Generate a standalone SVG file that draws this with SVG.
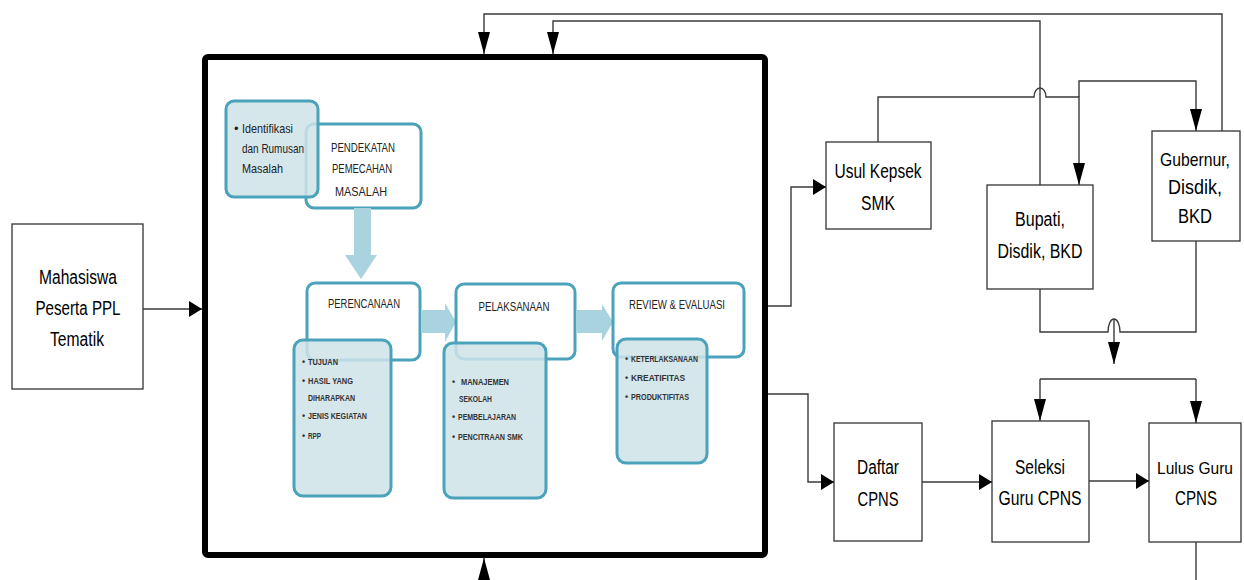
<svg xmlns="http://www.w3.org/2000/svg" width="1244" height="580" viewBox="0 0 1244 580">
<style>
.box{fill:#fff;stroke:#333;stroke-width:1.3}
.big{fill:#fff;stroke:#000;stroke-width:6}
.tw{fill:#fff;stroke:#4ba3bb;stroke-width:3}
.tl{fill:#cfe3e9;fill-opacity:0.85;stroke:#4ba3bb;stroke-width:3}
.ba{fill:#a9d3df}
.lbl{font-family:"Liberation Sans",Arial,sans-serif;font-size:20px;fill:#000;text-anchor:middle}
.sm{font-size:18.5px}
.xs{font-size:17px}
.ttl{font-family:"Liberation Sans",Arial,sans-serif;font-size:12px;fill:#222;text-anchor:middle}
.itm{font-family:"Liberation Sans",Arial,sans-serif;font-size:9px;font-weight:bold;fill:#333}
.idf{font-family:"Liberation Sans",Arial,sans-serif;font-size:13px;fill:#222}
.c{fill:none;stroke:#3a3a3a;stroke-width:1.4}
</style>
<defs>
<marker id="ah" viewBox="0 0 13 16" refX="13" refY="8" markerWidth="13" markerHeight="16" markerUnits="userSpaceOnUse" orient="auto">
<path d="M0,0 L13,8 L0,16 z" fill="#000"/>
</marker>
<marker id="av" viewBox="0 0 22 12" refX="22" refY="6" markerWidth="22" markerHeight="12" markerUnits="userSpaceOnUse" orient="auto">
<path d="M0,0 L22,6 L0,12 z" fill="#000"/>
</marker>
</defs>

<g id="process">
<rect class="big" x="205" y="57" width="560" height="498" rx="3"/>
<rect class="tw" x="306" y="124" width="115" height="84" rx="8"/>
<text class="ttl" x="363" y="152" textLength="64" lengthAdjust="spacingAndGlyphs">PENDEKATAN</text>
<text class="ttl" x="362" y="173" textLength="60" lengthAdjust="spacingAndGlyphs">PEMECAHAN</text>
<text class="ttl" x="361" y="196" textLength="52" lengthAdjust="spacingAndGlyphs">MASALAH</text>
<rect class="tl" x="226" y="101" width="92" height="96" rx="8"/>
<text class="idf" x="234" y="133">•</text>
<text class="idf" x="242" y="133" textLength="51" lengthAdjust="spacingAndGlyphs">Identifikasi</text>
<text class="idf" x="242" y="153" textLength="62" lengthAdjust="spacingAndGlyphs">dan Rumusan</text>
<text class="idf" x="242" y="173" textLength="41" lengthAdjust="spacingAndGlyphs">Masalah</text>
<polygon class="ba" points="354,208 371,208 371,255 377,255 361,279 345,255 354,255"/>

<rect class="tw" x="307" y="283" width="113" height="77" rx="8"/>
<text class="ttl" x="364" y="308" textLength="72" lengthAdjust="spacingAndGlyphs">PERENCANAAN</text>
<rect class="tl" x="294" y="340" width="97" height="156" rx="9"/>
<g class="itm">
<text x="302" y="365">•</text><text x="308" y="365" textLength="30" lengthAdjust="spacingAndGlyphs">TUJUAN</text>
<text x="302" y="384">•</text><text x="308" y="384" textLength="45" lengthAdjust="spacingAndGlyphs">HASIL YANG</text>
<text x="308" y="401" textLength="47" lengthAdjust="spacingAndGlyphs">DIHARAPKAN</text>
<text x="302" y="419">•</text><text x="308" y="419" textLength="59" lengthAdjust="spacingAndGlyphs">JENIS KEGIATAN</text>
<text x="302" y="439">•</text><text x="308" y="439" textLength="13" lengthAdjust="spacingAndGlyphs">RPP</text>
</g>
<polygon class="ba" points="421,310 445,310 445,303 456,322 445,342 445,333 421,333"/>

<rect class="tw" x="456" y="284" width="119" height="75" rx="8"/>
<text class="ttl" x="514" y="311" textLength="71" lengthAdjust="spacingAndGlyphs">PELAKSANAAN</text>
<rect class="tl" x="444" y="343" width="102" height="155" rx="9"/>
<g class="itm">
<text x="452" y="385">•</text><text x="461" y="385" textLength="48" lengthAdjust="spacingAndGlyphs">MANAJEMEN</text>
<text x="459" y="402" textLength="33" lengthAdjust="spacingAndGlyphs">SEKOLAH</text>
<text x="452" y="420">•</text><text x="458" y="420" textLength="58" lengthAdjust="spacingAndGlyphs">PEMBELAJARAN</text>
<text x="452" y="440">•</text><text x="458" y="440" textLength="65" lengthAdjust="spacingAndGlyphs">PENCITRAAN SMK</text>
</g>
<polygon class="ba" points="576,310 602,310 602,304 613,322 602,341 602,333 576,333"/>

<rect class="tw" x="613" y="283" width="131" height="74" rx="8"/>
<text class="ttl" x="677" y="309" textLength="96" lengthAdjust="spacingAndGlyphs">REVIEW &amp; EVALUASI</text>
<rect class="tl" x="617" y="339" width="90" height="124" rx="9"/>
<g class="itm">
<text x="625" y="362">•</text><text x="631" y="362" textLength="67" lengthAdjust="spacingAndGlyphs">KETERLAKSANAAN</text>
<text x="625" y="381">•</text><text x="631" y="381" textLength="54" lengthAdjust="spacingAndGlyphs">KREATIFITAS</text>
<text x="625" y="400">•</text><text x="631" y="400" textLength="58" lengthAdjust="spacingAndGlyphs">PRODUKTIFITAS</text>
</g>
</g>

<g id="mahasiswa">
<rect class="box" x="12" y="224" width="131" height="165"/>
<text class="lbl" x="78" y="284" textLength="78" lengthAdjust="spacingAndGlyphs">Mahasiswa</text>
<text class="lbl" x="78" y="315" textLength="85" lengthAdjust="spacingAndGlyphs">Peserta PPL</text>
<text class="lbl" x="77" y="346" textLength="54" lengthAdjust="spacingAndGlyphs">Tematik</text>
</g>

<g id="usul-kepsek">
<rect class="box" x="826" y="142" width="105" height="87"/>
<text class="lbl" x="878" y="178" textLength="87" lengthAdjust="spacingAndGlyphs">Usul Kepsek</text>
<text class="lbl" x="878" y="210" textLength="34" lengthAdjust="spacingAndGlyphs">SMK</text>
</g>

<g id="bupati">
<rect class="box" x="987" y="185" width="106" height="104"/>
<text class="lbl" x="1040" y="226" textLength="50" lengthAdjust="spacingAndGlyphs">Bupati,</text>
<text class="lbl" x="1040" y="258" textLength="85" lengthAdjust="spacingAndGlyphs">Disdik, BKD</text>
</g>

<g id="gubernur">
<rect class="box" x="1152" y="131" width="88" height="110"/>
<text class="lbl sm" x="1195" y="166" textLength="70" lengthAdjust="spacingAndGlyphs">Gubernur,</text>
<text class="lbl" x="1195" y="194" textLength="54" lengthAdjust="spacingAndGlyphs">Disdik,</text>
<text class="lbl" x="1195" y="223" textLength="34" lengthAdjust="spacingAndGlyphs">BKD</text>
</g>

<g id="daftar">
<rect class="box" x="834" y="423" width="88" height="118"/>
<text class="lbl" x="878" y="474" textLength="42" lengthAdjust="spacingAndGlyphs">Daftar</text>
<text class="lbl" x="878" y="506" textLength="41" lengthAdjust="spacingAndGlyphs">CPNS</text>
</g>

<g id="seleksi">
<rect class="box" x="992" y="421" width="97" height="121"/>
<text class="lbl" x="1040" y="474" textLength="50" lengthAdjust="spacingAndGlyphs">Seleksi</text>
<text class="lbl" x="1040" y="505" textLength="83" lengthAdjust="spacingAndGlyphs">Guru CPNS</text>
</g>

<g id="lulus">
<rect class="box" x="1149" y="423" width="92" height="119"/>
<text class="lbl xs" x="1195" y="474" textLength="76" lengthAdjust="spacingAndGlyphs">Lulus Guru</text>
<text class="lbl" x="1196" y="505" textLength="42" lengthAdjust="spacingAndGlyphs">CPNS</text>
</g>

<g id="connectors">
<path class="c" d="M143,309 H202" marker-end="url(#ah)"/>
<path class="c" d="M768,306 H791 V187 H826" marker-end="url(#ah)"/>
<path class="c" d="M768,394 H808 V482 H834" marker-end="url(#ah)"/>
<path class="c" d="M922,482 H992" marker-end="url(#ah)"/>
<path class="c" d="M1089,481 H1149" marker-end="url(#ah)"/>
<path class="c" d="M1222,131 V14 H484 V54" marker-end="url(#av)"/>
<path class="c" d="M1040,185 V21 H553 V54" marker-end="url(#av)"/>
<path class="c" d="M878,142 V97 H1034 a6,9 0 0 1 12,0 H1079 V185" marker-end="url(#av)"/>
<path class="c" d="M1079,97 V81 H1196 V131" marker-end="url(#av)"/>
<path class="c" d="M1040,289 V332 H1108 a6,13 0 0 1 12,0 H1196 V241"/>
<path class="c" d="M1114,319 V364" marker-end="url(#av)"/>
<path class="c" d="M1040,379 H1196"/>
<path class="c" d="M1040,379 V421" marker-end="url(#av)"/>
<path class="c" d="M1196,379 V423" marker-end="url(#av)"/>
<path class="c" d="M1196,542 V580"/>
<path class="c" d="M484,580 V558" marker-end="url(#av)"/>
</g>
</svg>
